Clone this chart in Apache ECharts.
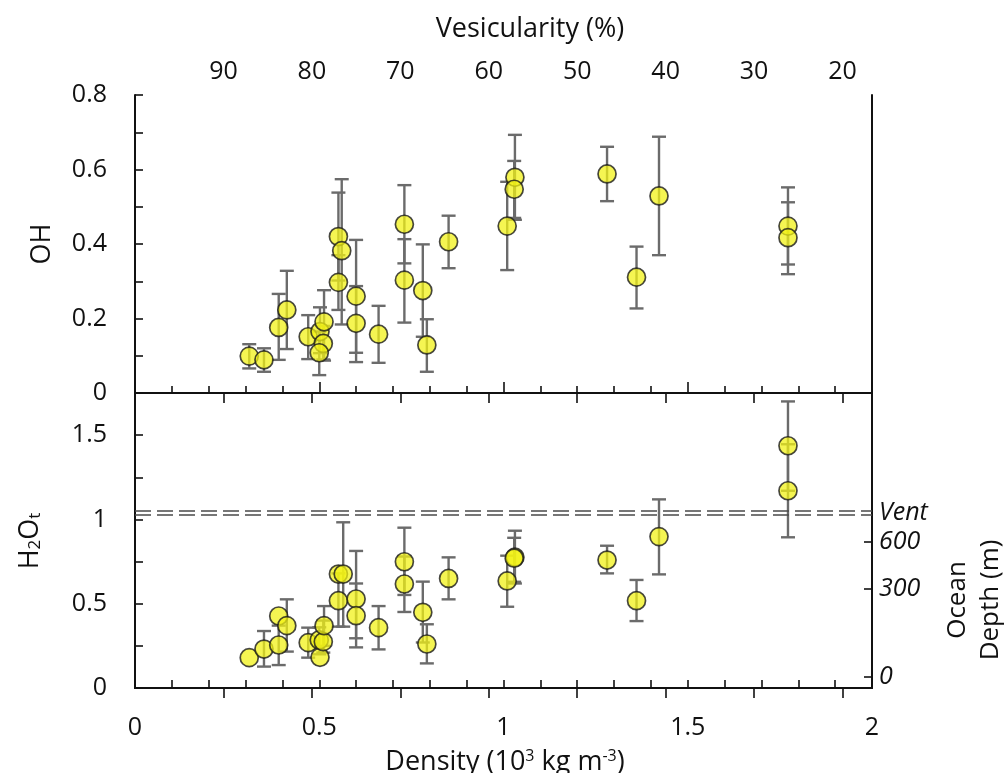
<!DOCTYPE html>
<html>
<head>
<meta charset="utf-8">
<script src="https://cdn.jsdelivr.net/npm/echarts@6/dist/echarts.min.js"></script>
<style>
  html, body { margin: 0; padding: 0; background: #fff; }
  #chart { width: 1008px; height: 773px; }
</style>
</head>
<body>
<div id="chart"></div>
<script>
// ---- OH (upper panel): density, value, error-bar low/high ----
const ohDensity = [0.310, 0.350, 0.390, 0.412, 0.470, 0.502, 0.513, 0.511, 0.500, 0.552, 0.561, 0.552, 0.600, 0.600,
                   0.661, 0.731, 0.731, 0.781, 0.792, 0.851, 1.010, 1.031, 1.029, 1.281, 1.361, 1.422, 1.772, 1.772];
const ohValue   = [0.099, 0.089, 0.176, 0.223, 0.151, 0.165, 0.191, 0.133, 0.108, 0.420, 0.382, 0.297, 0.260, 0.187,
                   0.158, 0.453, 0.303, 0.275, 0.129, 0.406, 0.448, 0.579, 0.547, 0.588, 0.311, 0.529, 0.448, 0.417];
const ohLow     = [0.066, 0.057, 0.089, 0.118, 0.091, 0.107, 0.087, 0.090, 0.048, 0.302, 0.184, 0.223, 0.108, 0.083,
                   0.081, 0.348, 0.189, 0.151, 0.057, 0.335, 0.330, 0.465, 0.470, 0.515, 0.227, 0.370, 0.345, 0.319];
const ohHigh    = [0.131, 0.120, 0.266, 0.328, 0.209, 0.230, 0.276, 0.180, 0.165, 0.538, 0.574, 0.370, 0.411, 0.287,
                   0.234, 0.558, 0.413, 0.399, 0.198, 0.476, 0.567, 0.693, 0.623, 0.661, 0.393, 0.688, 0.552, 0.512];

// ---- H2Ot (lower panel) ----
const h2oDensity = [0.310, 0.350, 0.390, 0.390, 0.412, 0.470, 0.502, 0.500, 0.511, 0.513, 0.552, 0.565, 0.552, 0.600, 0.600,
                    0.661, 0.731, 0.731, 0.781, 0.792, 0.851, 1.010, 1.031, 1.029, 1.281, 1.361, 1.422, 1.772, 1.772];
const h2oValue   = [0.180, 0.231, 0.255, 0.427, 0.370, 0.269, 0.182, 0.285, 0.275, 0.370, 0.676, 0.676, 0.518, 0.528, 0.429,
                    0.358, 0.749, 0.617, 0.449, 0.261, 0.650, 0.635, 0.776, 0.770, 0.759, 0.518, 0.898, 1.437, 1.170];
const h2oLow     = [null, 0.127, 0.136, null, 0.216, 0.180, null, 0.200, 0.210, 0.250, null, 0.364, 0.364, 0.295, 0.241,
                    0.229, 0.552, 0.451, 0.270, 0.146, 0.526, 0.482, 0.620, 0.630, 0.680, 0.397, 0.674, 1.170, 0.894];
const h2oHigh    = [null, 0.338, 0.370, null, 0.526, 0.358, null, 0.360, 0.400, 0.486, null, 0.983, 0.680, 0.813, 0.620,
                    0.486, 0.951, 0.780, 0.631, 0.378, 0.775, 0.785, 0.933, 0.891, 0.844, 0.641, 1.119, 1.700, 1.446];

// ---- Axes ----
const vesicularityTicks = [90, 80, 70, 60, 50, 40, 30, 20];
const solidDensity = 2.4;                 // 10^3 kg m^-3, dense-rock equivalent
const densityMax = 2;
const depthLabels = ['0', '300', '600', 'Vent'];
const depthH2O    = [0.065, 0.587, 0.866, 1.038];   // H2Ot solubility at each depth
const ventLines   = [1.030, 1.047];

const FONT = "'Open Sans', 'Noto Sans', sans-serif";
const vesMin = 100 * (1 - densityMax / solidDensity);

function pairs(xs, ys) { return xs.map((x, i) => [x, ys[i]]); }
function bars(xs, lo, hi) { return xs.map((x, i) => [x, lo[i], hi[i]]); }

function errorBar(params, api) {
  const lo = api.value(1), hi = api.value(2);
  if (lo == null || hi == null || isNaN(lo) || isNaN(hi)) return null;
  const x = api.value(0);
  const top = api.coord([x, hi]);
  const bot = api.coord([x, lo]);
  const w = 7;
  const style = { stroke: '#6b6b6b', lineWidth: 2.4, fill: null };
  return {
    type: 'group',
    children: [
      { type: 'line', shape: { x1: top[0], y1: top[1], x2: bot[0], y2: bot[1] }, style },
      { type: 'line', shape: { x1: top[0] - w, y1: top[1], x2: top[0] + w, y2: top[1] }, style },
      { type: 'line', shape: { x1: bot[0] - w, y1: bot[1], x2: bot[0] + w, y2: bot[1] }, style }
    ]
  };
}

const axisLine = { show: true, lineStyle: { color: '#111', width: 2 } };
const tickStyle = { color: '#111', width: 1.6 };
const labelStyle = { color: '#111', fontSize: 25, fontFamily: FONT };
const TITLE = '27px ' + FONT;

const pointStyle = {
  color: 'rgba(242, 242, 20, 0.92)',
  borderColor: '#1a1a1a',
  borderWidth: 1.7
};

const chart = echarts.init(document.getElementById('chart'), null, { renderer: 'canvas' });

chart.setOption({
  animation: false,
  backgroundColor: '#fff',
  grid: [
    { left: 135, width: 737, top: 95, height: 298, outerBoundsMode: 'none' },
    { left: 135, width: 737, top: 393, height: 295, outerBoundsMode: 'none' }
  ],
  xAxis: [
    { // shared border, density ticks pointing up into upper panel
      type: 'value', gridIndex: 0, position: 'bottom', min: 0, max: densityMax, interval: 0.5,
      axisLine, axisLabel: { show: false }, splitLine: { show: false },
      axisTick: { inside: true, length: 11, lineStyle: tickStyle },
      minorTick: { show: true, splitNumber: 5, length: 7, lineStyle: tickStyle }
    },
    { // vesicularity along the top
      type: 'value', gridIndex: 0, position: 'top', min: vesMin, max: 100, inverse: true,
      axisLine, splitLine: { show: false },
      axisTick: { inside: true, length: 10, lineStyle: tickStyle, customValues: vesicularityTicks },
      axisLabel: Object.assign({ margin: 11, customValues: vesicularityTicks }, labelStyle)
    },
    { // density along the bottom
      type: 'value', gridIndex: 1, position: 'bottom', min: 0, max: densityMax, interval: 0.5,
      axisLine, splitLine: { show: false },
      axisTick: { inside: true, length: 8, lineStyle: tickStyle },
      minorTick: { show: true, splitNumber: 5, length: 8, lineStyle: tickStyle },
      axisLabel: Object.assign({ margin: 27 }, labelStyle)
    },
    { // shared border, vesicularity ticks pointing down into lower panel
      type: 'value', gridIndex: 1, position: 'top', min: vesMin, max: 100, inverse: true,
      axisLine, splitLine: { show: false }, axisLabel: { show: false },
      axisTick: { inside: true, length: 10, lineStyle: tickStyle, customValues: vesicularityTicks }
    }
  ],
  yAxis: [
    {
      type: 'value', gridIndex: 0, position: 'left', min: 0, max: 0.8, interval: 0.2,
      axisLine, splitLine: { show: false },
      axisTick: { inside: true, length: 8, lineStyle: tickStyle },
      minorTick: { show: true, splitNumber: 2, length: 8, lineStyle: tickStyle },
      axisLabel: Object.assign({ margin: 28 }, labelStyle)
    },
    {
      type: 'value', gridIndex: 0, position: 'right', min: 0, max: 0.8,
      axisLine, splitLine: { show: false }, axisTick: { show: false }, axisLabel: { show: false }
    },
    {
      type: 'value', gridIndex: 1, position: 'left', min: 0, max: 1.75,
      axisLine, splitLine: { show: false },
      axisTick: { inside: true, length: 8, lineStyle: tickStyle, customValues: [0, 0.25, 0.5, 0.75, 1, 1.25, 1.5] },
      axisLabel: Object.assign({ margin: 28, customValues: [0, 0.5, 1, 1.5] }, labelStyle)
    },
    { // ocean depth equivalent of H2Ot solubility
      type: 'value', gridIndex: 1, position: 'right', min: 0, max: 1.75,
      axisLine, splitLine: { show: false },
      axisTick: { inside: true, length: 8, lineStyle: tickStyle, customValues: depthH2O.slice(0, 3) },
      axisLabel: Object.assign({}, labelStyle, {
        margin: 7, fontStyle: 'italic', customValues: depthH2O,
        formatter: function (v) {
          let best = 0;
          depthH2O.forEach((d, i) => { if (Math.abs(d - v) < Math.abs(depthH2O[best] - v)) best = i; });
          return depthLabels[best];
        }
      })
    }
  ],
  series: [
    {
      type: 'custom', xAxisIndex: 0, yAxisIndex: 0, z: 2,
      renderItem: errorBar, encode: { x: 0, y: [1, 2] },
      data: bars(ohDensity, ohLow, ohHigh)
    },
    {
      type: 'scatter', xAxisIndex: 0, yAxisIndex: 0, z: 3,
      symbolSize: 18, itemStyle: pointStyle,
      data: pairs(ohDensity, ohValue)
    },
    {
      type: 'custom', xAxisIndex: 2, yAxisIndex: 2, z: 2,
      renderItem: errorBar, encode: { x: 0, y: [1, 2] },
      data: bars(h2oDensity, h2oLow, h2oHigh)
    },
    {
      type: 'scatter', xAxisIndex: 2, yAxisIndex: 2, z: 3,
      symbolSize: 18, itemStyle: pointStyle,
      data: pairs(h2oDensity, h2oValue),
      markLine: {
        silent: true, symbol: 'none', label: { show: false }, animation: false,
        lineStyle: { color: '#4a4a4a', width: 1.6, type: [16, 6] },
        data: ventLines.map(v => ({ yAxis: v }))
      }
    }
  ],
  graphic: [
    {
      type: 'text', x: 530, y: 29,
      style: { text: 'Vesicularity (%)', font: TITLE, fill: '#111', align: 'center', verticalAlign: 'middle' }
    },
    {
      type: 'text', x: 505, y: 762,
      style: {
        text: 'Density (10{sup|3} kg m{sup|-3})', font: TITLE, fill: '#111',
        align: 'center', verticalAlign: 'middle',
        rich: { sup: { fontSize: 16, fontFamily: FONT, fill: '#111', verticalAlign: 'top', lineHeight: 14 } }
      }
    },
    {
      type: 'text', x: 42, y: 244, rotation: Math.PI / 2,
      style: { text: 'OH', font: TITLE, fill: '#111', align: 'center', verticalAlign: 'middle' }
    },
    {
      type: 'text', x: 30, y: 541, rotation: Math.PI / 2,
      style: {
        text: 'H{sub|2}O{sub|t}', font: TITLE, fill: '#111',
        align: 'center', verticalAlign: 'middle',
        rich: { sub: { fontSize: 17, fontFamily: FONT, fill: '#111', verticalAlign: 'bottom', lineHeight: 11 } }
      }
    },
    {
      type: 'text', x: 974, y: 600, rotation: Math.PI / 2,
      style: { text: 'Ocean\nDepth (m)', font: '26px ' + FONT, fill: '#111', align: 'center', verticalAlign: 'middle', lineHeight: 33 }
    }
  ]
});
</script>
</body>
</html>
